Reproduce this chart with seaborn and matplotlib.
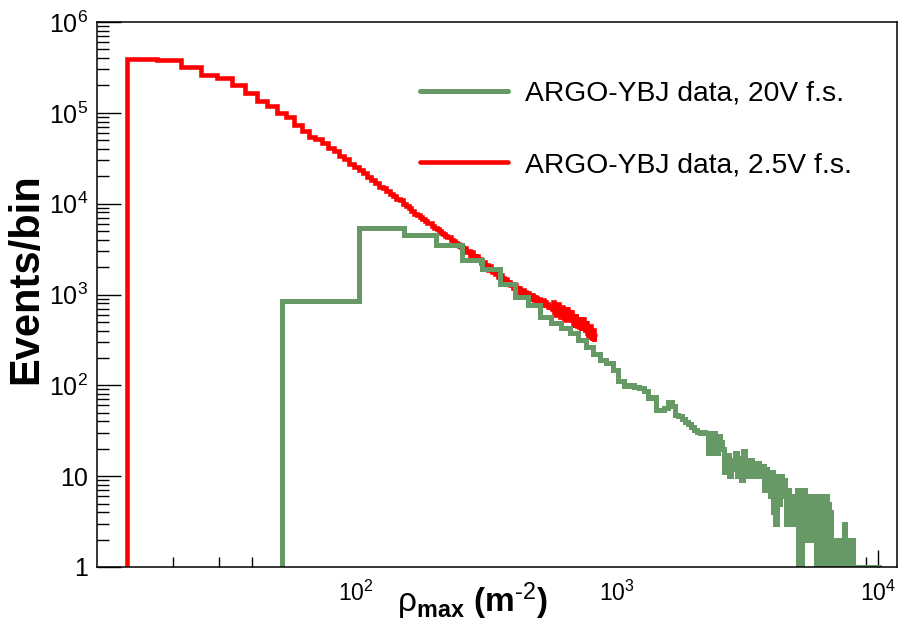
import numpy as np
import matplotlib
matplotlib.use("Agg")
import matplotlib.pyplot as plt
from matplotlib.ticker import FixedLocator, FixedFormatter, LogLocator, NullFormatter
import seaborn as sns

# rho_max distributions (events per bin)
# 2.5V full scale: fixed-width bins starting at red_start
red_start = 13.3
red_width = 4.05
red_counts = [
    387000, 377000, 323000, 264000, 241000, 200000, 167000, 135000, 119000, 99000,
    90000, 74000, 63000, 54000, 51000, 47000, 41000, 38000, 33500, 31000,
    27500, 25500, 23400, 21900, 19700, 18100, 16900, 15400, 14700, 13700,
    12800, 12000, 11300, 10900, 10000, 9400, 8900, 8400, 7700, 7500,
    7100, 6800, 6500, 6200, 6050, 5670, 5440, 5210, 5000, 4700,
    4600, 4440, 4280, 4250, 3990, 3850, 3710, 3580, 3380, 3320,
    3200, 3250, 2920, 2980, 2660, 2920, 2680, 2500, 2630, 2420,
    2470, 2210, 2270, 2290, 2060, 2090, 1870, 2060, 1880, 1760,
    1850, 1700, 1740, 1560, 1620, 1630, 1470, 1510, 1360, 1500,
    1390, 1310, 1380, 1270, 1320, 1190, 1240, 1260, 1150, 1180,
    1070, 1190, 1100, 1050, 1110, 1040, 1070, 980, 1020, 1045,
    950, 990, 900, 1000, 930, 880, 945, 875, 910, 830,
    870, 895, 820, 850, 775, 865, 805, 765, 820, 765,
    795, 725, 765, 785, 720, 750, 685, 828, 642, 742,
    595, 776, 652, 597, 792, 664, 572, 715, 592, 733,
    567, 655, 525, 684, 575, 527, 700, 587, 506, 634,
    524, 649, 502, 580, 464, 605, 507, 466, 617, 518,
    445, 558, 461, 570, 441, 509, 408, 532, 447, 409,
    543, 452, 387, 482, 396, 486, 374, 431, 343, 444,
    371, 338, 446, 373, 319, 398, 328, 404, 311, 357,
]

# 20V full scale
green_start = 52.0
green_width = 50.5
green_counts = [
    850, 5450, 4540, 3480, 2380, 1890, 1320, 930, 760, 560,
    480, 423, 373, 312, 261, 224, 188, 174, 146, 113,
    99, 101, 95, 93, 87, 73, 74, 53, 54, 56,
    65, 59, 47, 46, 43, 39, 38, 35, 32, 31,
    30, 31, 30, 18, 29, 30, 18, 28, 24, 20,
    11, 17, 10, 15, 12, 18, 10, 16, 9, 19,
    12, 14, 10, 15, 11, 13, 10, 14, 12, 10,
    13, 7, 12, 8, 11, 6, 11, 4, 9, 3,
    10, 5, 8, 10, 6, 9, 6, 3, 7, 4,
    6, 3, 5, 6, 3, 6, 7, 0, 6, 1,
    7, 2, 7, 3, 2, 6, 2, 5, 3, 2,
    6, 2, 6, 0, 5, 1, 6, 2, 0, 5,
    6, 1, 4, 0, 6, 2, 5, 0, 4, 1,
    2, 0, 2, 1, 2, 0, 2, 1, 2, 0,
    2, 2, 1, 2, 0, 2, 3, 1, 2, 0,
    2, 1, 2, 0, 2, 1, 2, 2, 0, 0,
    0, 0, 0, 0, 0, 0, 0, 0, 0, 0,
    0, 0, 0, 0, 0, 0, 0, 0, 0, 0,
    0, 0, 0, 0, 0, 0, 0, 0, 0, 0,
    0, 0, 0, 0, 0, 0, 0, 0, 0, 0,
]

labels = ['ARGO-YBJ data, 20V f.s.', 'ARGO-YBJ data, 2.5V f.s.']
colors = ['#669966', '#ff0000']

y_ticks = [1, 10, 1e2, 1e3, 1e4, 1e5, 1e6]
y_ticklabels = ['1', '10', r'$10^{2}$', r'$10^{3}$', r'$10^{4}$', r'$10^{5}$', r'$10^{6}$']
x_ticks = [1e2, 1e3, 1e4]
x_ticklabels = [r'$10^{2}$', r'$10^{3}$', r'$10^{4}$']
x_minor_ticks = [20, 30, 40, 9000]


def step_points(start, width, counts, floor=1.0):
    """Histogram outline as points for a steps-post line (empty bins sit on the axis)."""
    counts = np.clip(np.asarray(counts, dtype=float), floor, None)
    edges = start + width * np.arange(len(counts) + 1)
    x = np.concatenate([[edges[0]], edges])
    y = np.concatenate([[floor], counts, [counts[-1]]])
    return x, y


sns.set_style('ticks')
plt.rcParams['font.family'] = ['Liberation Sans', 'DejaVu Sans']
plt.rcParams['mathtext.fontset'] = 'custom'
plt.rcParams['mathtext.rm'] = 'Liberation Sans'
plt.rcParams['mathtext.bf'] = 'Liberation Sans:bold'
plt.rcParams['mathtext.default'] = 'regular'
plt.rcParams['text.color'] = 'black'
plt.rcParams['axes.labelcolor'] = 'black'

fig = plt.figure(figsize=(8.99, 6.3), dpi=100)
ax = fig.add_axes([97 / 899, 1 - 567 / 630, 800 / 899, 545 / 630])
ax.set_xscale('log')
ax.set_yscale('log')

xr, yr = step_points(red_start, red_width, red_counts)
xg, yg = step_points(green_start, green_width, green_counts)

line_kw = dict(estimator=None, sort=False, drawstyle='steps-post', ax=ax,
               solid_joinstyle='miter')
sns.lineplot(x=xr, y=yr, color=colors[1], linewidth=3.3, label=labels[1], **line_kw)
sns.lineplot(x=xg, y=yg, color=colors[0], linewidth=3.6, label=labels[0], **line_kw)

ax.set_xlim(10.2, 11800)
ax.set_ylim(1, 1e6)

ax.yaxis.set_major_locator(FixedLocator(y_ticks))
ax.yaxis.set_major_formatter(FixedFormatter(y_ticklabels))
ax.yaxis.set_minor_locator(LogLocator(base=10, subs=np.arange(2, 10)))
ax.yaxis.set_minor_formatter(NullFormatter())
ax.xaxis.set_major_locator(FixedLocator(x_ticks))
ax.xaxis.set_major_formatter(FixedFormatter(x_ticklabels))
ax.xaxis.set_minor_locator(FixedLocator(x_minor_ticks))
ax.xaxis.set_minor_formatter(NullFormatter())

ax.tick_params(which='both', direction='in', top=False, right=False,
               width=1.0, color='black', labelcolor='black')
ax.tick_params(axis='y', which='major', length=17.3, pad=6.5, labelsize=18)
ax.tick_params(axis='y', which='minor', length=8.6)
ax.tick_params(axis='x', which='major', length=12.2, pad=10, labelsize=16.5)
ax.tick_params(axis='x', which='minor', length=7.2)
# only the 10^4 tick mark is drawn on the x axis
for tick in ax.xaxis.get_major_ticks()[:2]:
    tick.tick1line.set_visible(False)

for side in ['left', 'right', 'top', 'bottom']:
    ax.spines[side].set_visible(True)
    ax.spines[side].set_color('black')
    ax.spines[side].set_linewidth(1.1)

ax.set_ylabel('Events/bin', fontsize=30, fontweight='bold', color='black')
ax.yaxis.set_label_coords(-0.064, 0.53)
ax.set_xlabel(r'$\mathrm{\rho}_{max}$ (m$^{\text{-2}}$)', fontsize=24,
              fontweight='bold', color='black')
ax.xaxis.set_label_coords(0.469, -0.024)

handles, texts = ax.get_legend_handles_labels()
order = [texts.index(lbl) for lbl in labels]
leg = ax.legend([handles[i] for i in order], [texts[i] for i in order],
                loc='upper left', bbox_to_anchor=(420 / 899, 1 - 81 / 630),
                bbox_transform=fig.transFigure, frameon=False, fontsize=20.3,
                handlelength=3.12, handletextpad=0.6, labelspacing=1.6,
                borderpad=0, borderaxespad=0)
for txt in leg.get_texts():
    txt.set_color('black')
for hl in leg.get_lines():
    hl.set_solid_capstyle('round')

fig.savefig('out.png', dpi=100)
